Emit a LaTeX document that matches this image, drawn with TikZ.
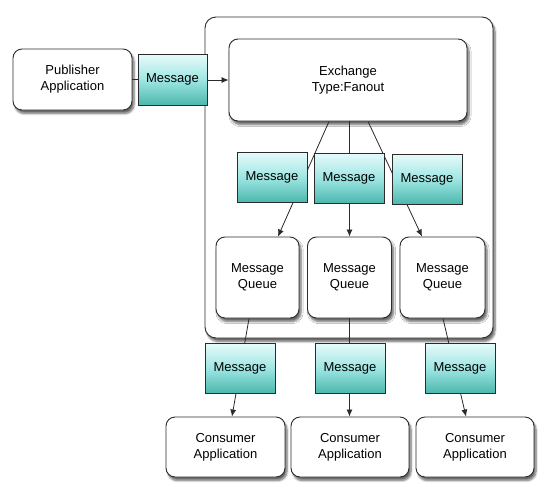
\documentclass[tikz,border=0pt]{standalone}
\usepackage{fontspec}
\setmainfont{Liberation Sans}
\usetikzlibrary{arrows.meta,shadows,shadows.blur}
\definecolor{edge}{HTML}{2B2B2B}
\definecolor{msgtop}{HTML}{E8FBFB}
\definecolor{msgmid}{HTML}{9FE6E3}
\definecolor{msgbot}{HTML}{4CB8AE}
\tikzset{
  box/.style={draw=edge, line width=0.9pt, fill=white, rounded corners=9pt, inner sep=0pt, align=center,
    font=\fontsize{13}{16}\selectfont,
    blur shadow={shadow xshift=2pt, shadow yshift=-3.5pt, shadow blur steps=6, shadow blur extra rounding=1pt, shadow opacity=60}},
  msg/.style={draw=edge, line width=0.9pt, top color=msgtop, bottom color=msgbot, middle color=msgmid,
    minimum width=70pt, minimum height=50pt, inner sep=0pt, font=\fontsize{13}{16}\selectfont},
  conn/.style={draw=edge, line width=0.8pt},
  arr/.style={conn, -{Latex[length=7pt,width=6pt]}}
}
\begin{document}
\begin{tikzpicture}[x=1pt,y=-1pt]
\useasboundingbox (0,0) rectangle (557,493);
% container
\node[box, rounded corners=11pt, minimum width=288pt, minimum height=321pt] (cont) at (349,177.5) {};
\node[box, minimum width=238pt, minimum height=82pt] (ex) at (348,80) {Exchange\\Type:Fanout};
\node[box, minimum width=119pt, minimum height=61pt] (pub) at (72.5,79.5) {Publisher\\Application};
% queues
\node[box, minimum width=83pt, minimum height=81pt] (q1) at (257.5,277.5) {Message\\Queue};
\node[box, minimum width=84pt, minimum height=81pt] (q2) at (349.5,277.5) {Message\\Queue};
\node[box, minimum width=85pt, minimum height=81pt] (q3) at (442.5,277.5) {Message\\Queue};
% consumers
\node[box, minimum width=119pt, minimum height=60pt] (c1) at (225.5,447) {Consumer\\Application};
\node[box, minimum width=118pt, minimum height=60pt] (c2) at (350,447) {Consumer\\Application};
\node[box, minimum width=118pt, minimum height=60pt] (c3) at (475,447) {Consumer\\Application};
% connectors
\draw[conn] (pub.east) -- (pub.east -| 140,0);
\draw[arr] (ex.west -| 205,0) -- (ex.west);
\draw[arr] ([xshift=-19pt]ex.south) -- ([xshift=20.5pt]q1.north);
\draw[arr] (ex.south -| q2.north) -- (q2.north);
\draw[arr] ([xshift=20pt]ex.south) -- ([xshift=-20.5pt]q3.north);
\draw[arr] ([xshift=-8.5pt]q1.south) -- ([xshift=6.5pt]c1.north);
\draw[arr] (q2.south) -- (q2.south |- c2.north);
\draw[arr] ([xshift=0.5pt]q3.south) -- ([xshift=-9pt]c3.north);
% messages
\node[msg, minimum width=69pt, minimum height=51pt] (m0) at (172.5,79.5) {Message};
\node[msg] (m1) at (272,177) {Message};
\node[msg] (m2) at (349,178) {Message};
\node[msg] (m3) at (427,179) {Message};
\node[msg] (b1) at (240,368) {Message};
\node[msg] (b2) at (350,368) {Message};
\node[msg] (b3) at (460,368) {Message};
\end{tikzpicture}
\end{document}
